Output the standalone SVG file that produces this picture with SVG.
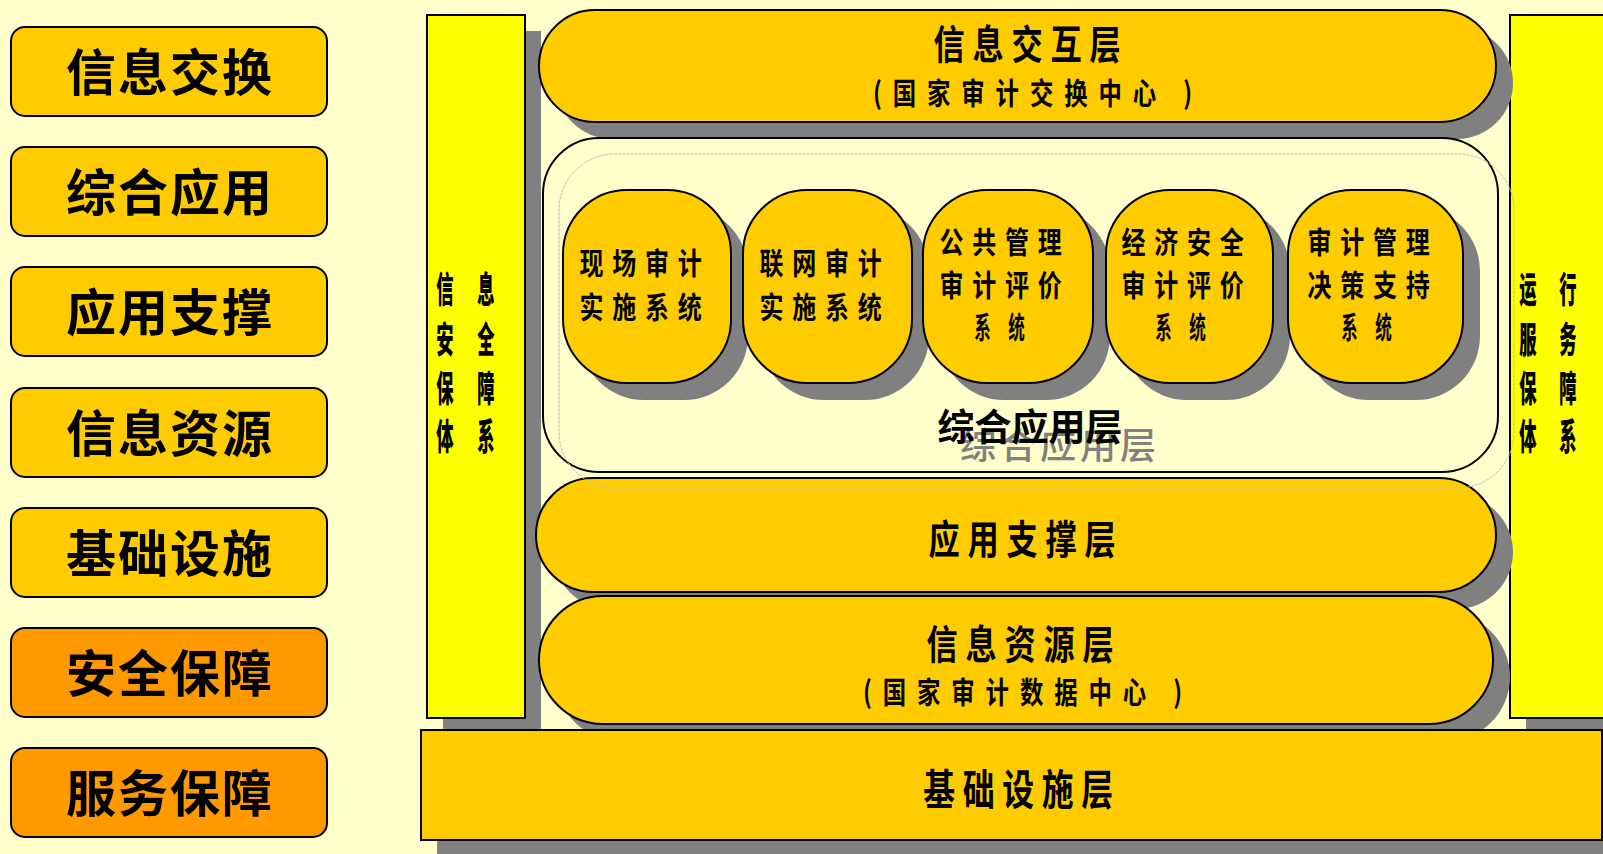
<svg xmlns="http://www.w3.org/2000/svg" width="1603" height="854" viewBox="0 0 1603 854">
<style>
text{font-family:"Noto Sans CJK SC","Liberation Sans",sans-serif;font-weight:700;fill:#000;text-anchor:middle}
.bg{fill:#FFFFCC}
.sh{fill:#808080}
.gold{fill:#FFCC00;stroke:#000;stroke-width:2}
.orange{fill:#FF9900;stroke:#000;stroke-width:2}
.bar{fill:#FFFF00;stroke:#000;stroke-width:2}
.frame{fill:#FFFFCC;stroke:#000;stroke-width:2}
.ghostline{fill:none;stroke:#BDBDBD;stroke-width:1;stroke-dasharray:3 1}
.lbl{font-size:50px;letter-spacing:2px}
.ttl{font-size:40px;letter-spacing:10px}
.sub{font-size:30px;letter-spacing:14px}
.pt{font-size:30px;letter-spacing:11px}
.ps{font-size:30px;letter-spacing:12.5px}
.vt{font-size:36px;font-weight:900}
.ghost{font-size:36px;letter-spacing:4px;font-weight:500;fill:#808080}
</style>
<rect class="bg" x="0" y="0" width="1603" height="854"/>

<g id="legend">
  <g id="legend-xinxijiaohuan"><rect class="gold" x="11" y="27" width="316" height="89" rx="14"/><text class="lbl" x="170" y="91">信息交换</text></g>
  <g id="legend-zongheyingyong"><rect class="gold" x="11" y="147" width="316" height="89" rx="14"/><text class="lbl" x="170" y="211">综合应用</text></g>
  <g id="legend-yingyongzhicheng"><rect class="gold" x="11" y="267" width="316" height="89" rx="14"/><text class="lbl" x="170" y="331">应用支撑</text></g>
  <g id="legend-xinxiziyuan"><rect class="gold" x="11" y="388" width="316" height="89" rx="14"/><text class="lbl" x="170" y="452">信息资源</text></g>
  <g id="legend-jichusheshi"><rect class="gold" x="11" y="508" width="316" height="89" rx="14"/><text class="lbl" x="170" y="572">基础设施</text></g>
  <g id="legend-anquanbaozhang"><rect class="orange" x="11" y="628" width="316" height="89" rx="14"/><text class="lbl" x="170" y="692">安全保障</text></g>
  <g id="legend-fuwubaozhang"><rect class="orange" x="11" y="748" width="316" height="89" rx="14"/><text class="lbl" x="170" y="812">服务保障</text></g>
</g>

<g id="security-bar">
  <rect class="sh" x="443" y="31" width="98" height="703"/>
  <rect class="bar" x="427" y="15" width="98" height="703"/>
  <text class="vt" transform="translate(445,303) scale(0.48,1)">信</text>
  <text class="vt" transform="translate(486,303) scale(0.48,1)">息</text>
  <text class="vt" transform="translate(445,353) scale(0.48,1)">安</text>
  <text class="vt" transform="translate(486,353) scale(0.48,1)">全</text>
  <text class="vt" transform="translate(445,402) scale(0.48,1)">保</text>
  <text class="vt" transform="translate(486,402) scale(0.48,1)">障</text>
  <text class="vt" transform="translate(445,450) scale(0.48,1)">体</text>
  <text class="vt" transform="translate(486,450) scale(0.48,1)">系</text>
</g>

<g id="service-bar">
  <rect class="sh" x="1526" y="31" width="98" height="703"/>
  <rect class="bar" x="1510" y="15" width="98" height="703"/>
  <text class="vt" transform="translate(1528,303) scale(0.48,1)">运</text>
  <text class="vt" transform="translate(1568,303) scale(0.48,1)">行</text>
  <text class="vt" transform="translate(1528,353) scale(0.48,1)">服</text>
  <text class="vt" transform="translate(1568,353) scale(0.48,1)">务</text>
  <text class="vt" transform="translate(1528,402) scale(0.48,1)">保</text>
  <text class="vt" transform="translate(1568,402) scale(0.48,1)">障</text>
  <text class="vt" transform="translate(1528,450) scale(0.48,1)">体</text>
  <text class="vt" transform="translate(1568,450) scale(0.48,1)">系</text>
</g>

<g id="layer-interaction">
  <rect class="sh" x="556" y="27" width="957" height="112" rx="56"/>
  <rect class="gold" x="539" y="10" width="957" height="112" rx="56"/>
  <text class="ttl" transform="translate(1031,59) scale(0.78,1)">信息交互层</text>
  <text class="sub" transform="translate(1038,104) scale(0.78,1)">(国家审计交换中心 )</text>
</g>

<g id="layer-application">
  <rect class="frame" x="543" y="138" width="955" height="334" rx="56"/>
  <text class="ghost" x="1060" y="459">综合应用层</text>
  <text x="1030" y="441" style="font-size:37px">综合应用层</text>
</g>

<g id="sys-xianchang">
  <rect class="sh" x="580" y="207" width="168" height="193" rx="64"/>
  <rect class="gold" x="563" y="190" width="168" height="193" rx="64"/>
  <text class="pt" transform="translate(645,274) scale(0.8,1)">现场审计</text>
  <text class="pt" transform="translate(645,318) scale(0.8,1)">实施系统</text>
</g>
<g id="sys-lianwang">
  <rect class="sh" x="760" y="207" width="169" height="193" rx="64"/>
  <rect class="gold" x="743" y="190" width="169" height="193" rx="64"/>
  <text class="pt" transform="translate(825,274) scale(0.8,1)">联网审计</text>
  <text class="pt" transform="translate(825,318) scale(0.8,1)">实施系统</text>
</g>
<g id="sys-gonggong">
  <rect class="sh" x="940" y="207" width="170" height="193" rx="64"/>
  <rect class="gold" x="923" y="190" width="170" height="193" rx="64"/>
  <text class="pt" transform="translate(1005,253) scale(0.8,1)">公共管理</text>
  <text class="pt" transform="translate(1005,296) scale(0.8,1)">审计评价</text>
  <text class="ps" transform="translate(1003,338) scale(0.55,1)">系 统</text>
</g>
<g id="sys-jingji">
  <rect class="sh" x="1123" y="207" width="167" height="193" rx="64"/>
  <rect class="gold" x="1106" y="190" width="167" height="193" rx="64"/>
  <text class="pt" transform="translate(1187,253) scale(0.8,1)">经济安全</text>
  <text class="pt" transform="translate(1187,296) scale(0.8,1)">审计评价</text>
  <text class="ps" transform="translate(1184,338) scale(0.55,1)">系 统</text>
</g>
<g id="sys-juece">
  <rect class="sh" x="1305" y="207" width="175" height="193" rx="64"/>
  <rect class="gold" x="1288" y="190" width="175" height="193" rx="64"/>
  <text class="pt" transform="translate(1373,253) scale(0.8,1)">审计管理</text>
  <text class="pt" transform="translate(1373,296) scale(0.8,1)">决策支持</text>
  <text class="ps" transform="translate(1370,338) scale(0.55,1)">系 统</text>
</g>

<g id="layer-support">
  <rect class="sh" x="553" y="495" width="960" height="114" rx="57"/>
  <rect class="gold" x="536" y="478" width="960" height="114" rx="57"/>
  <text class="ttl" transform="translate(1026,554) scale(0.78,1)">应用支撑层</text>
</g>

<g id="layer-resource">
  <rect class="sh" x="556" y="613" width="954" height="128" rx="64"/>
  <rect class="gold" x="539" y="596" width="954" height="128" rx="64"/>
  <text class="ttl" transform="translate(1024,659) scale(0.78,1)">信息资源层</text>
  <text class="sub" transform="translate(1028,703) scale(0.78,1)">(国家审计数据中心 )</text>
</g>

<g id="layer-infrastructure">
  <rect class="sh" x="437" y="746" width="1200" height="120"/>
  <rect class="gold" x="421" y="730" width="1181" height="110"/>
  <text class="ttl" style="font-size:42px" transform="translate(1022,805) scale(0.76,1)">基础设施层</text>
</g>

<g id="connectors"></g>

<rect class="ghostline" x="559" y="154" width="955" height="334" rx="56"/>
</svg>
